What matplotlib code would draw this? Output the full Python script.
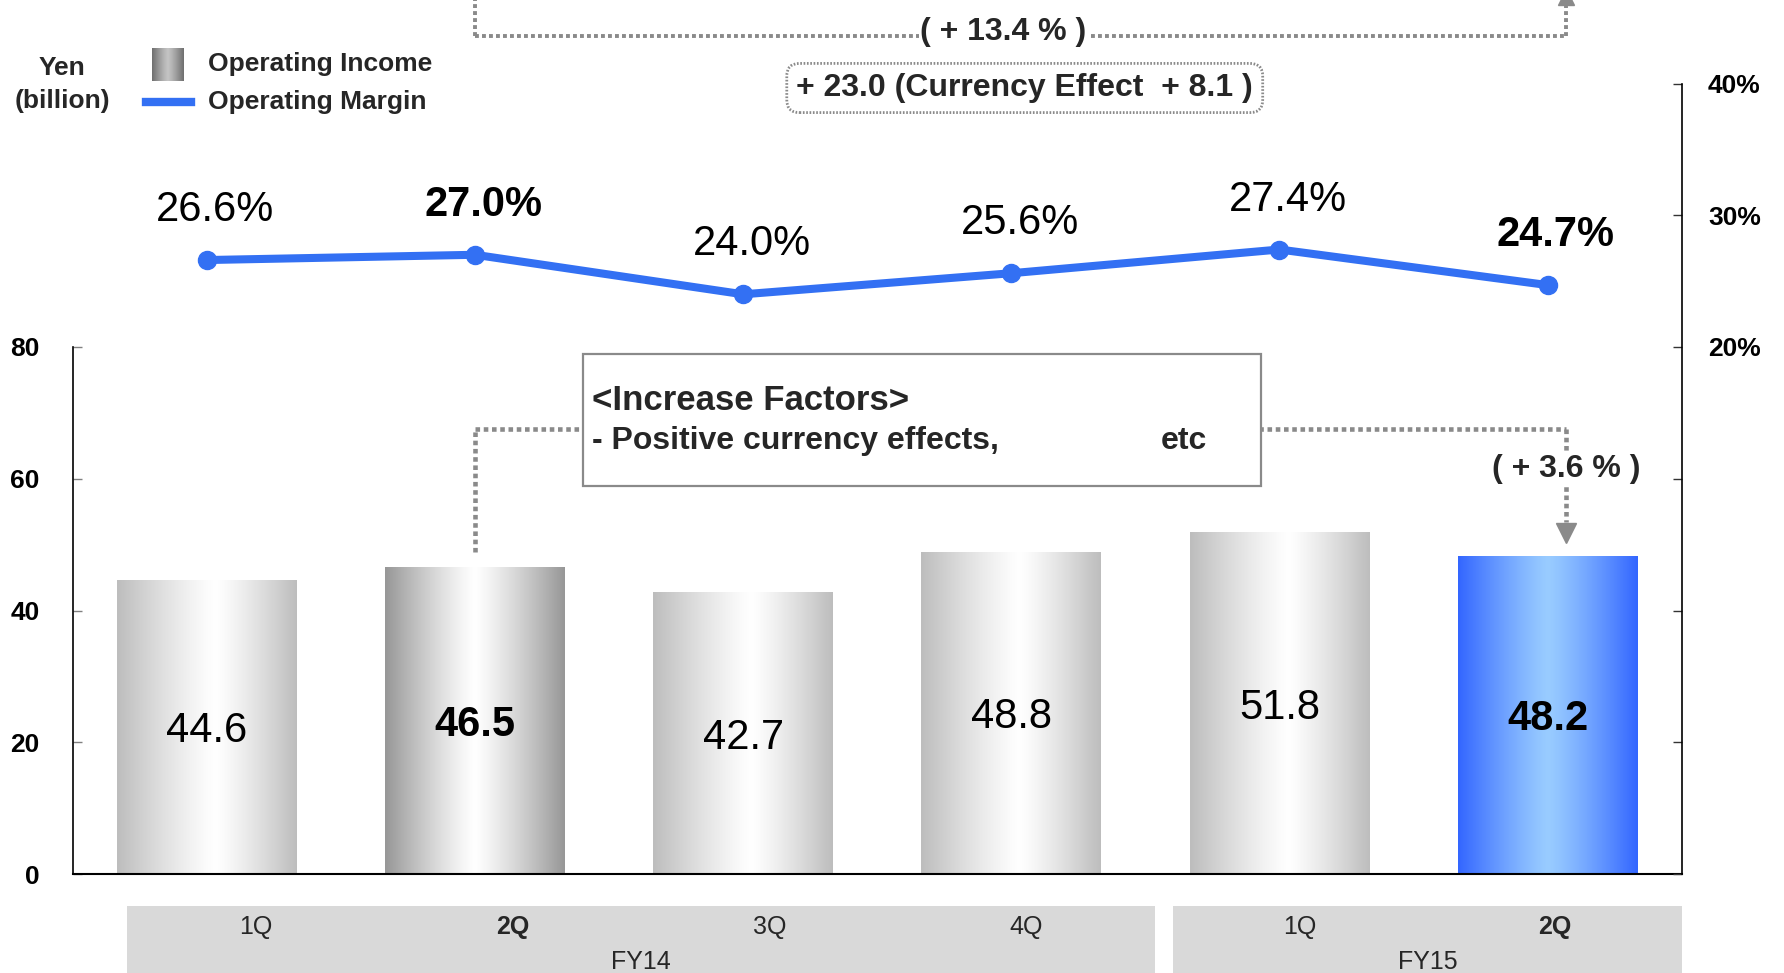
import numpy as np
import matplotlib
matplotlib.use("Agg")
import matplotlib.pyplot as plt
from matplotlib.colors import to_rgb
from matplotlib.patches import Rectangle
from matplotlib.lines import Line2D
import matplotlib.transforms as mtransforms
from matplotlib.ticker import FixedLocator, FixedFormatter

plt.rcParams['font.family'] = ['Liberation Sans', 'DejaVu Sans']

# ---------------- data ----------------
quarters = ['1Q', '2Q', '3Q', '4Q', '1Q', '2Q']
years = ['FY14', 'FY15']
quarters_per_year = [4, 2]
operating_income = [44.6, 46.5, 42.7, 48.8, 51.8, 48.2]
operating_margin = [26.6, 27.0, 24.0, 25.6, 27.4, 24.7]
highlight = [False, True, False, False, False, True]
bar_styles = ['normal', 'dark', 'normal', 'normal', 'normal', 'blue']
left_ticks = [0, 20, 40, 60, 80]
right_ticks = [-20, -10, 0, 10, 20, 30, 40]
right_ticklabels = ['', '', '', '', '20%', '30%', '40%']
yoy_text = '( + 13.4 % )'
currency_text = '+ 23.0 (Currency Effect  + 8.1 )'
qoq_text = '( + 3.6 % )'
factor_title = '<Increase Factors>'
factor_line = '- Positive currency effects,'
factor_etc = 'etc'

W, H = 1784, 973
fig = plt.figure(figsize=(W / 100, H / 100), dpi=100)
fig.patch.set_facecolor('white')

ax = fig.add_axes([72.8 / W, (H - 874) / H, (1681.7 - 72.8) / W, (874 - 83.5) / H])
ax2 = ax.twinx()

TXT = '#262626'
GRAY = '#8a8a8a'
LINE_BLUE = '#3370F3'

styles = {
    'normal': ('#BDBDBD', '#FFFFFF', 0.55),
    'dark': ('#979797', '#FFFFFF', 0.5),
    'blue': ('#3366FF', '#99CCFF', 0.5),
}


def gradient(edge, center, c, n=256):
    t = np.linspace(0, 1, n)
    s = np.where(t < c, (c - t) / c, (t - c) / (1 - c))
    s = s ** 1.2
    e = np.array(to_rgb(edge))
    m = np.array(to_rgb(center))
    rgb = m[None, :] + (e - m)[None, :] * s[:, None]
    return rgb[None, :, :]


x = np.arange(len(quarters))
bars = ax.bar(x, operating_income, width=0.67, color='none', edgecolor='none', zorder=2)
for b, st in zip(bars, bar_styles):
    e, m, c = styles[st]
    x0, w, h = b.get_x(), b.get_width(), b.get_height()
    ax.imshow(gradient(e, m, c), extent=(x0, x0 + w, 0, h), aspect='auto',
              interpolation='bilinear', zorder=2)

for xi, v, hl in zip(x, operating_income, highlight):
    ax.annotate(f'{v:.1f}', (xi, v / 2), xytext=(0, -3), textcoords='offset points',
                ha='center', va='center', fontsize=30,
                fontweight='bold' if hl else 'normal', color='black', zorder=5)

ax.set_xlim(-0.5, 5.5)
ax.set_ylim(0, 120)
ax.set_aspect('auto')

# left axis
for s in ['top', 'right']:
    ax.spines[s].set_visible(False)
ax.spines['left'].set_bounds(0, 80)
ax.spines['left'].set_linewidth(1.2)
ax.spines['bottom'].set_linewidth(1.5)
ax.set_xticks([])
ax.yaxis.set_major_locator(FixedLocator(left_ticks))
ax.tick_params(axis='y', direction='in', length=6.5, width=1, color='#808080',
               labelsize=19, pad=24)
for lbl in ax.get_yticklabels():
    lbl.set_fontweight('bold')

# right axis
ax2.set_ylim(-20, 40)
for s in ['top', 'left', 'bottom']:
    ax2.spines[s].set_visible(False)
ax2.spines['right'].set_linewidth(1.2)
ax2.yaxis.set_major_locator(FixedLocator(right_ticks))
ax2.yaxis.set_major_formatter(FixedFormatter(right_ticklabels))
ax2.tick_params(axis='y', direction='in', length=6.5, width=1, color='#333333',
                labelsize=19, pad=19)
for lbl in ax2.get_yticklabels():
    lbl.set_fontweight('bold')

ax2.plot(x, operating_margin, color=LINE_BLUE, lw=5.8, marker='o', ms=13,
         solid_joinstyle='round', zorder=3)
for xi, m, hl in zip(x, operating_margin, highlight):
    ax2.annotate(f'{m:.1f}%', (xi, m), xytext=(6, 36), textcoords='offset points',
                 ha='center', va='center', fontsize=30,
                 fontweight='bold' if hl else 'normal', color='black')

# ---------------- annotations ----------------
bt = mtransforms.blended_transform_factory(ax.transData, fig.transFigure)
dot = (0, (1, 0.8))
x_from = 1
x_to = 5.07


def fy(px_from_top):
    return (H - px_from_top) / H


# top bracket (year-over-year)
yb = fy(36)
for xs, ys in [([x_from, x_from], [yb, 1.01]), ([x_from, x_to], [yb, yb]), ([x_to, x_to], [yb, 1.01])]:
    fig.add_artist(Line2D(xs, ys, transform=bt, color=GRAY, lw=2.8, linestyle=dot,
                          dash_capstyle='butt'))
fig.add_artist(Line2D([x_to], [fy(-3)], transform=bt, color=GRAY, marker='^', ms=12,
                      linestyle='none'))
fig.text(2.97, yb + 4 / H, yoy_text, transform=bt, ha='center', va='center',
         fontsize=23, fontweight='bold', color=TXT,
         bbox=dict(boxstyle='square,pad=0.05', fc='white', ec='none'))

fig.text(3.05, fy(88), currency_text, transform=bt, ha='center', va='center',
         fontsize=23, fontweight='bold', color=TXT,
         bbox=dict(boxstyle='round,pad=0.3,rounding_size=0.4', fc='white', ec=GRAY,
                   lw=2, linestyle=(0, (0.6, 0.6))))

# middle bracket (quarter-over-quarter)
y_top = 67.55
ax.plot([x_from, x_from], [operating_income[1] + 2.4, y_top], color=GRAY, lw=3.3,
        linestyle=dot, dash_capstyle='butt', zorder=3, clip_on=False)
ax.plot([x_from, x_to], [y_top, y_top], color=GRAY, lw=3.3, linestyle=dot,
        dash_capstyle='butt', zorder=3, clip_on=False)
ax.plot([x_to, x_to], [y_top, 53.5], color=GRAY, lw=3.3, linestyle=dot,
        dash_capstyle='butt', zorder=3, clip_on=False)
ax.plot([x_to], [51.7], color=GRAY, marker='v', ms=14, linestyle='none', zorder=3)
ax.text(x_to, 61.5, qoq_text, ha='center', va='center', fontsize=23,
        fontweight='bold', color=TXT, zorder=5,
        bbox=dict(boxstyle='square,pad=0.1', fc='white', ec='none'))

ax.add_patch(Rectangle((1.403, 58.9), 3.931 - 1.403, 78.9 - 58.9, fc='white',
                       ec=GRAY, lw=1.6, zorder=4))
ax.text(1.437, 71.9, factor_title, ha='left', va='center', fontsize=25,
        fontweight='bold', color=TXT, zorder=5)
ax.text(1.437, 65.7, factor_line, ha='left', va='center', fontsize=23,
        fontweight='bold', color=TXT, zorder=5)
ax.text(3.557, 65.7, factor_etc, ha='left', va='center', fontsize=23,
        fontweight='bold', color=TXT, zorder=5)

# ---------------- legend ----------------
lax = fig.add_axes([152 / W, fy(81), 32 / W, 33 / H])
lax.imshow(gradient('#6e6e6e', '#c4c4c4', 0.5), aspect='auto', interpolation='bilinear')
lax.axis('off')
fig.add_artist(Line2D([146 / W, 191 / W], [fy(102), fy(102)], color=LINE_BLUE, lw=6))
fig.text(208 / W, fy(64), 'Operating Income', ha='left', va='center', fontsize=19,
         fontweight='bold', color=TXT)
fig.text(208 / W, fy(102), 'Operating Margin', ha='left', va='center', fontsize=19,
         fontweight='bold', color=TXT)
fig.text(62 / W, fy(68), 'Yen', ha='center', va='center', fontsize=19,
         fontweight='bold', color=TXT)
fig.text(62 / W, fy(101), '(billion)', ha='center', va='center', fontsize=19,
         fontweight='bold', color=TXT)

# ---------------- category band ----------------
bands = [(127, 1155), (1173, 1682)]
qi = 0
for (bx0, bx1), yr, n in zip(bands, years, quarters_per_year):
    fig.add_artist(Rectangle((bx0 / W, 0), (bx1 - bx0) / W, (H - 906) / H,
                             transform=fig.transFigure, fc='#D9D9D9', ec='none'))
    cw = (bx1 - bx0) / n
    for k in range(n):
        cx = bx0 + cw * (k + 0.5)
        fig.text(cx / W, fy(927), quarters[qi], ha='center', va='center', fontsize=18,
                 fontweight='bold' if highlight[qi] else 'normal', color=TXT)
        qi += 1
    fig.text((bx0 + bx1) / 2 / W, fy(962), yr, ha='center', va='center', fontsize=18,
             color=TXT)

fig.savefig('out.png', dpi=100, facecolor='white')
